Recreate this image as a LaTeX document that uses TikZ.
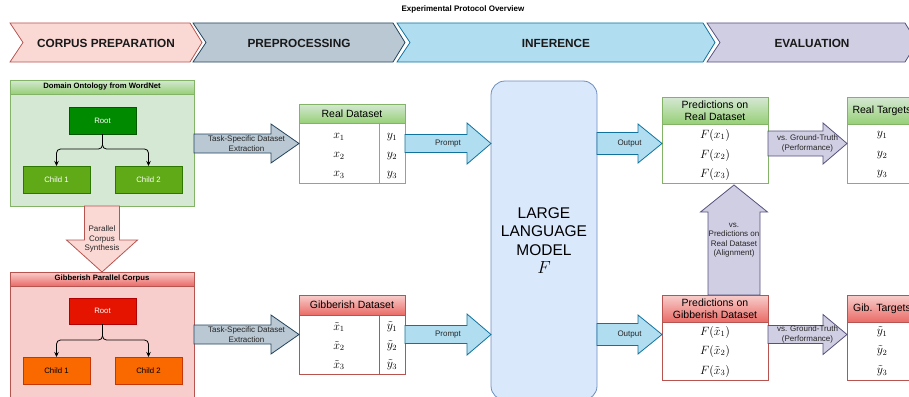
\RequirePackage{fix-cm}
\documentclass[tikz,border=0pt]{standalone}
\usepackage{fontspec}
\setmainfont{Liberation Sans}
\usetikzlibrary{arrows.meta,calc}
\definecolor{pinkF}{HTML}{FAD9D5}\definecolor{pinkD}{HTML}{B85450}
\definecolor{greyF}{HTML}{BAC8D3}\definecolor{greyD}{HTML}{23445D}
\definecolor{blueF}{HTML}{B1DDF0}\definecolor{blueD}{HTML}{10739E}
\definecolor{purF}{HTML}{D0CEE2}\definecolor{purD}{HTML}{56517E}
\definecolor{grnF}{HTML}{D5E8D4}\definecolor{grnG}{HTML}{97D077}\definecolor{grnD}{HTML}{82B366}
\definecolor{redF}{HTML}{F8CECC}\definecolor{redG}{HTML}{EA6B66}\definecolor{redD}{HTML}{B85450}
\definecolor{llmF}{HTML}{DAE8FC}\definecolor{llmD}{HTML}{6C8EBF}
\definecolor{dgF}{HTML}{008A00}\definecolor{dgD}{HTML}{005700}
\definecolor{lgF}{HTML}{60A917}\definecolor{lgD}{HTML}{2D7600}
\definecolor{rrF}{HTML}{E51400}\definecolor{rrD}{HTML}{B20000}
\definecolor{orF}{HTML}{FA6800}\definecolor{orD}{HTML}{C73500}
% box node: name, x1, y1, x2, y2, style, text
\newcommand\rbox[7]{\node[inner sep=0pt, outer sep=0pt, minimum width={(#4-#2)*1pt}, minimum height={(#5-#3)*1pt}, #6] (#1) at ({(#2+#4)/2},{(#3+#5)/2}) {#7};}
% chevron: x1, x2, fill, draw, name, text
\newcommand\chev[6]{\draw[fill=#3, draw=#4, line width=0.8pt] (#1,23) -- ({#2-12},23) -- (#2,42.5) -- ({#2-12},62) -- (#1,62) -- ({#1+13},42.5) -- cycle;
  \node[phase] (#5) at ({(#1+#2)/2},43) {#6};}
% horizontal block arrow: start, end, shaft half, head half, head length, style, text
\newcommand\harrow[7]{\draw[#6] let \p1=(#1), \p2=(#2) in
  (\x1,{\y1+#3pt}) -- ({\x2-#5pt},{\y1+#3pt}) -- ({\x2-#5pt},{\y1+#4pt}) -- (\x2,\y1) -- ({\x2-#5pt},{\y1-#4pt}) -- ({\x2-#5pt},{\y1-#3pt}) -- (\x1,{\y1-#3pt}) -- cycle
  node[lbl] at ({(\x1+\x2)/2},\y1) {#7};}
% downward block arrow
\newcommand\darrow[7]{\draw[#6] let \p1=(#1), \p2=(#2) in
  ({\x1-#3pt},\y1) -- ({\x1-#3pt},{\y2+#5pt}) -- ({\x1-#4pt},{\y2+#5pt}) -- (\x1,\y2) -- ({\x1+#4pt},{\y2+#5pt}) -- ({\x1+#3pt},{\y2+#5pt}) -- ({\x1+#3pt},\y1) -- cycle
  node[lbl] at (\x1,{(\y1+\y2)/2}) {#7};}
% upward block arrow
\newcommand\uarrow[7]{\draw[#6] let \p1=(#1), \p2=(#2) in
  ({\x1-#3pt},\y1) -- ({\x1-#3pt},{\y2-#5pt}) -- ({\x1-#4pt},{\y2-#5pt}) -- (\x1,\y2) -- ({\x1+#4pt},{\y2-#5pt}) -- ({\x1+#3pt},{\y2-#5pt}) -- ({\x1+#3pt},\y1) -- cycle
  node[lbl] at (\x1,{(\y1+\y2)/2}) {#7};}
\begin{document}
\begin{tikzpicture}[x=1pt,y=-1pt,
  phase/.style={font=\fontsize{11.8}{13}\selectfont\bfseries, text=black!90, inner sep=0pt},
  lbl/.style={font=\fontsize{8}{9.5}\selectfont, align=center, text=black!85, inner sep=0pt},
  hdr/.style={font=\fontsize{10.5}{11.7}\selectfont, align=center},
  lanehdr/.style={font=\fontsize{7.7}{9}\selectfont\bfseries},
  treebox/.style={font=\fontsize{7.8}{9}\selectfont, line width=0.8pt},
  mth/.style={font=\fontsize{12}{14}\selectfont, inner sep=0pt},
  bx/.style={line width=0.8pt},
  tree/.style={draw=black, line width=0.8pt, rounded corners=4pt, -{Stealth[length=5pt,width=4.5pt]}},
  barrow/.style={line width=0.8pt, line join=miter}]
\useasboundingbox (0,0) rectangle (909,396);
\clip (0,0) rectangle (909,396);

% title
\node[font=\fontsize{8}{9}\selectfont\bfseries] (title) at (463,9) {Experimental Protocol Overview};

% phases
\chev{10}{202}{pinkF}{pinkD}{ph1}{CORPUS PREPARATION}
\chev{193}{405}{greyF}{greyD}{ph2}{PREPROCESSING}
\chev{397}{715}{blueF}{blueD}{ph3}{INFERENCE}
\chev{707}{917}{purF}{purD}{ph4}{EVALUATION}

% domain ontology lane
\rbox{onto}{10}{80}{194}{206}{bx, draw=grnD, fill=grnF}{}
\rbox{ontoh}{10}{80}{194}{94}{bx, draw=grnD, top color=grnF, bottom color=grnG, lanehdr}{Domain Ontology from WordNet}
\rbox{root}{69}{107}{136}{134}{treebox, draw=dgD, fill=dgF, text=white}{Root}
\rbox{c1}{23}{166}{90}{193}{treebox, draw=lgD, fill=lgF, text=white}{Child 1}
\rbox{c2}{115}{166}{182}{193}{treebox, draw=lgD, fill=lgF, text=white}{Child 2}
\draw[tree] (root.south) -- ++(0,15) -| (c1.north);
\draw[tree] (root.south) -- ++(0,15) -| (c2.north);

% gibberish lane
\rbox{gibc}{10}{272}{194}{410}{bx, draw=redD, fill=redF}{}
\rbox{gibch}{10}{272}{194}{286}{bx, draw=redD, top color=redF, bottom color=redG, lanehdr}{Gibberish Parallel Corpus}
\rbox{groot}{69}{298}{136}{324}{treebox, draw=rrD, fill=rrF, text=white}{Root}
\rbox{gc1}{23}{357}{90}{384}{treebox, draw=orD, fill=orF, text=black}{Child 1}
\rbox{gc2}{115}{357}{182}{384}{treebox, draw=orD, fill=orF, text=black}{Child 2}
\draw[tree] (groot.south) -- ++(0,16) -| (gc1.north);
\draw[tree] (groot.south) -- ++(0,16) -| (gc2.north);

% parallel corpus synthesis
\darrow{onto.south}{gibc.north}{17.5}{35.5}{32}{barrow, fill=pinkF, draw=pinkD}{Parallel\\Corpus\\Synthesis}

% real dataset
\rbox{real}{299}{104}{405}{183}{bx, draw=grnD, fill=white}{}
\rbox{realh}{299}{104}{405}{123}{bx, draw=grnD, top color=grnF, bottom color=grnG, hdr}{Real Dataset}
\draw[bx, draw=grnD] (379,123) -- (379,183);
\node[mth] (rx1) at (339,137) {$x_1$};
\node[mth] (rx2) at (339,156) {$x_2$};
\node[mth] (rx3) at (339,175) {$x_3$};
\node[mth] (ry1) at (392,137) {$y_1$};
\node[mth] (ry2) at (392,156) {$y_2$};
\node[mth] (ry3) at (392,175) {$y_3$};

% gibberish dataset
\rbox{gibdata}{299}{295}{405}{374}{bx, draw=redD, fill=white}{}
\rbox{gibdatah}{299}{295}{405}{315}{bx, draw=redD, top color=redF, bottom color=redG, hdr}{Gibberish Dataset}
\draw[bx, draw=redD] (379,315) -- (379,374);
\node[mth] (gx1) at (339,327) {$\tilde{x}_1$};
\node[mth] (gx2) at (339,346) {$\tilde{x}_2$};
\node[mth] (gx3) at (339,365) {$\tilde{x}_3$};
\node[mth] (gy1) at (392,327) {$\tilde{y}_1$};
\node[mth] (gy2) at (392,346) {$\tilde{y}_2$};
\node[mth] (gy3) at (392,365) {$\tilde{y}_3$};

% LLM
\node[draw=llmD, fill=llmF, line width=0.8pt, rounded corners=14pt, minimum width=106pt, minimum height=319pt, inner sep=0pt, outer sep=0pt, align=center, font=\fontsize{15.5}{18.5}\selectfont] (llm) at (544,240.5) {LARGE\\LANGUAGE\\MODEL\\{\fontsize{17.5}{18.5}\selectfont$F$}};

% predictions on real
\rbox{predreal}{662}{97}{768}{183}{bx, draw=grnD, fill=white}{}
\rbox{predrealh}{662}{97}{768}{124}{bx, draw=grnD, top color=grnF, bottom color=grnG, hdr}{Predictions on\\Real Dataset}
\node[mth] (pr1) at (715,135) {$F(x_1)$};
\node[mth] (pr2) at (715,155) {$F(x_2)$};
\node[mth] (pr3) at (715,174) {$F(x_3)$};

% real targets
\rbox{realtgt}{847}{97}{917}{183}{bx, draw=grnD, fill=white}{}
\rbox{realtgth}{847}{97}{917}{124}{bx, draw=grnD, top color=grnF, bottom color=grnG, hdr}{Real Targets}
\node[mth] (rt1) at (882,135) {$y_1$};
\node[mth] (rt2) at (882,155) {$y_2$};
\node[mth] (rt3) at (882,174) {$y_3$};

% predictions on gibberish
\rbox{predgib}{662}{295}{768}{380}{bx, draw=redD, fill=white}{}
\rbox{predgibh}{662}{295}{768}{322}{bx, draw=redD, top color=redF, bottom color=redG, hdr}{Predictions on\\Gibberish Dataset}
\node[mth] (pg1) at (715,332) {$F(\tilde{x}_1)$};
\node[mth] (pg2) at (715,351) {$F(\tilde{x}_2)$};
\node[mth] (pg3) at (715,371) {$F(\tilde{x}_3)$};

% gib targets
\rbox{gibtgt}{847}{295}{917}{380}{bx, draw=redD, fill=white}{}
\rbox{gibtgth}{847}{295}{917}{322}{bx, draw=redD, top color=redF, bottom color=redG, hdr}{Gib. Targets}
\node[mth] (gt1) at (882,332) {$\tilde{y}_1$};
\node[mth] (gt2) at (882,351) {$\tilde{y}_2$};
\node[mth] (gt3) at (882,371) {$\tilde{y}_3$};

% block arrows
\harrow{onto.east |- real.west}{real.west}{9.5}{19.5}{28}{barrow, fill=greyF, draw=greyD}{Task-Specific Dataset\\Extraction}
\harrow{gibc.east |- gibdata.west}{gibdata.west}{9.5}{19.5}{28}{barrow, fill=greyF, draw=greyD}{Task-Specific Dataset\\Extraction}
\harrow{real.east}{llm.west |- real.east}{9}{20.5}{24}{barrow, fill=blueF, draw=blueD}{Prompt}
\harrow{gibdata.east}{llm.west |- gibdata.east}{9}{20.5}{24}{barrow, fill=blueF, draw=blueD}{Prompt}
\harrow{llm.east |- real.east}{predreal.west |- real.east}{11}{19.5}{24}{barrow, fill=blueF, draw=blueD}{Output}
\harrow{llm.east |- gibdata.east}{predgib.west |- gibdata.east}{11}{19.5}{24}{barrow, fill=blueF, draw=blueD}{Output}
\harrow{predreal.east |- real.east}{realtgt.west |- real.east}{12.5}{20.5}{24}{barrow, fill=purF, draw=purD}{vs. Ground-Truth\\(Performance)}
\harrow{predgib.east |- gibdata.east}{gibtgt.west |- gibdata.east}{9}{20}{24}{barrow, fill=purF, draw=purD}{vs. Ground-Truth\\(Performance)}
\uarrow{[xshift=19pt]predgib.north}{[xshift=19pt,yshift=-2pt]predreal.south}{26}{33.5}{27}{barrow, fill=purF, draw=purD}{vs.\\Predictions on\\Real Dataset\\(Alignment)}
\end{tikzpicture}
\end{document}
